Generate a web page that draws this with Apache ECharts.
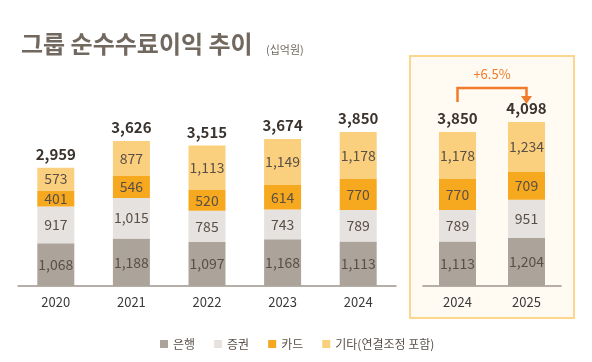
<!DOCTYPE html>
<html><head><meta charset="utf-8">
<script src="https://cdn.jsdelivr.net/npm/echarts@6/dist/echarts.min.js"></script>
<style>html,body{margin:0;padding:0;background:#fff}#c{width:592px;height:362px}</style>
</head><body><div id="c"></div>
<script>
const yearsA = ['2020','2021','2022','2023','2024'];
const bankA = [1068,1188,1097,1168,1113];
const secA = [917,1015,785,743,789];
const cardA = [401,546,520,614,770];
const etcA = [573,877,1113,1149,1178];
const yearsB = ['2024','2025'];
const bankB = [1113,1204];
const secB = [789,951];
const cardB = [770,709];
const etcB = [1178,1234];
const growthLabel = '+6.5%';
const names = ['은행','증권','카드','기타(연결조정 포함)'];
const colors = ['#aca49b','#e5e2df','#f6a81f','#fad07e'];

const FONT = '"Noto Sans CJK KR","Noto Sans",sans-serif';
const fmt = v => v.toLocaleString('en-US');
const sum = (arrs) => arrs[0].map((_, i) => arrs.reduce((s, a) => s + a[i], 0));
const totA = sum([bankA, secA, cardA, etcA]);
const totB = sum([bankB, secB, cardB, etcB]);

const chart = echarts.init(document.getElementById('c'), null, {renderer: 'canvas'});
function seg(name, data, color, gi, stack) {
  return {
    name, type: 'bar', stack, xAxisIndex: gi, yAxisIndex: gi, data, barWidth: 37,
    itemStyle: {color}, silent: true,
    label: {show: true, position: 'inside', formatter: p => fmt(p.value), color: '#5a4f47', fontSize: 14, fontFamily: FONT}
  };
}
function total(data, gi, stack) {
  return {
    name: 'total' + gi, type: 'bar', stack, xAxisIndex: gi, yAxisIndex: gi, data: data.map(() => 0), barWidth: 37,
    itemStyle: {color: 'transparent'}, silent: true,
    label: {show: true, position: 'top', distance: 6, formatter: p => fmt(data[p.dataIndex]), color: '#3a332e', fontSize: 15, fontWeight: 'bold', fontFamily: FONT}
  };
}
const axisCommon = {
  type: 'category', axisTick: {show: false},
  axisLine: {lineStyle: {color: '#9e958b', width: 1.5}},
  axisLabel: {color: '#3a3a3a', fontSize: 13, margin: 10, fontFamily: FONT}
};
const yCommon = {type: 'value', min: 0, max: 5000, show: false, splitLine: {show: false}};
const boxRect = {type: 'rect', z: -1, shape: {x: 410, y: 56, width: 164, height: 262}, style: {fill: '#fffaf2', stroke: '#fcd68c', lineWidth: 2}};

chart.setOption({
  animation: false,
  backgroundColor: '#ffffff',
  title: [
    {text: '그룹 순수수료이익 추이', left: 16, top: 27, textStyle: {color: '#716860', fontSize: 24, fontWeight: 'bold', fontFamily: FONT}},
    {text: '(십억원)', left: 261, top: 39, textStyle: {color: '#716860', fontSize: 11, fontWeight: 'normal', fontFamily: FONT}}
  ],
  graphic: [boxRect],
  legend: {
    left: 155, top: 333, itemWidth: 8, itemHeight: 8, icon: 'rect', itemGap: 19,
    data: names, textStyle: {color: '#5a4f47', fontSize: 12, fontFamily: FONT}
  },
  grid: [
    {left: 18, width: 378, top: 86, bottom: 76},
    {left: 423, width: 138, top: 86, bottom: 76}
  ],
  xAxis: [
    Object.assign({gridIndex: 0, data: yearsA}, axisCommon),
    Object.assign({gridIndex: 1, data: yearsB}, axisCommon)
  ],
  yAxis: [Object.assign({gridIndex: 0}, yCommon), Object.assign({gridIndex: 1}, yCommon)],
  series: [
    seg(names[0], bankA, colors[0], 0, 'a'),
    seg(names[1], secA, colors[1], 0, 'a'),
    seg(names[2], cardA, colors[2], 0, 'a'),
    seg(names[3], etcA, colors[3], 0, 'a'),
    total(totA, 0, 'a'),
    seg(names[0], bankB, colors[0], 1, 'b'),
    seg(names[1], secB, colors[1], 1, 'b'),
    seg(names[2], cardB, colors[2], 1, 'b'),
    seg(names[3], etcB, colors[3], 1, 'b'),
    total(totB, 1, 'b')
  ]
});

// growth arrow from the 2024 total to the 2025 total (right grid)
const p0 = chart.convertToPixel({gridIndex: 1}, [0, totB[0]]);
const p1 = chart.convertToPixel({gridIndex: 1}, [1, totB[1]]);
const startY = p0[1] - 30, topY = p1[1] - 34, endY = p1[1] - 18;
const arrowColor = '#ef7b2b';
chart.setOption({
  graphic: [
    boxRect,
    {type: 'polyline', z: 10, shape: {points: [[p0[0], startY], [p0[0], topY], [p1[0], topY], [p1[0], endY - 7]]}, style: {stroke: arrowColor, lineWidth: 2.5, fill: null}},
    {type: 'polygon', z: 10, shape: {points: [[p1[0] - 5.5, endY - 8], [p1[0] + 5.5, endY - 8], [p1[0], endY]]}, style: {fill: arrowColor}},
    {type: 'text', z: 10, x: (p0[0] + p1[0]) / 2, y: topY - 14, style: {text: growthLabel, fill: arrowColor, fontSize: 13, fontFamily: FONT, align: 'center', verticalAlign: 'middle'}}
  ]
});
</script></body></html>
